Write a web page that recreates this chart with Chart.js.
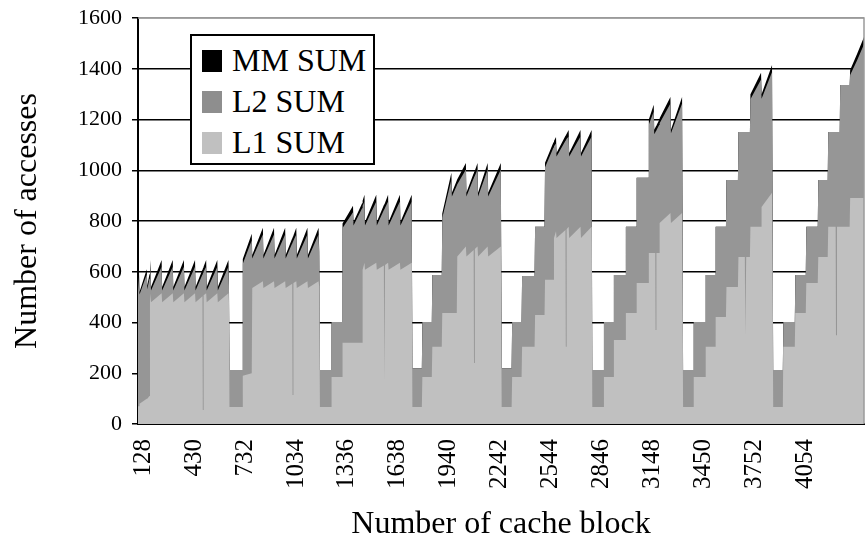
<!DOCTYPE html>
<html>
<head>
<meta charset="utf-8">
<script src="https://cdn.jsdelivr.net/npm/chart.js@4.4.0/dist/chart.umd.min.js"></script>
<style>
  html, body { margin: 0; padding: 0; background: #fff; }
  #wrap { position: relative; width: 865px; height: 544px; }
  #legend {
    position: absolute; left: 190px; top: 34px; width: 181px; height: 127px;
    border: 2px solid #000; background: #fff;
    font-family: "Liberation Serif", serif; font-size: 32px; color: #000;
  }
  #legend .sw { position: absolute; left: 10px; width: 20px; height: 22px; }
  #legend .tx { position: absolute; left: 40px; line-height: 32px; white-space: nowrap; }
</style>
</head>
<body>
<div id="wrap">
  <canvas id="chart" width="865" height="544"></canvas>
  <div id="legend">
    <div class="sw" style="top:14px;background:#000"></div><div class="tx" style="top:8px">MM SUM</div>
    <div class="sw" style="top:55px;background:#8e8e8e"></div><div class="tx" style="top:49px">L2 SUM</div>
    <div class="sw" style="top:96px;background:#c0c0c0"></div><div class="tx" style="top:90px">L1 SUM</div>
  </div>
</div>
<script>
// cache block counts (x) and the three stacked series
const blocks = [
  // group 1
  98, 104, 107, 150, 153, 166, 169, 172, 175, 238, 241, 304, 307, 370, 373, 436, 439,
  480, 482, 485, 487, 502, 505, 568, 571, 634, 637, 640, 716,
  // group 2
  719, 772, 775, 838, 841, 904, 907, 970, 973, 1012, 1014, 1017, 1019, 1036, 1039,
  1102, 1105, 1168, 1172, 1176, 1242, 1245, 1307,
  // group 3
  1310, 1372, 1375, 1426, 1429, 1440, 1443, 1510, 1513, 1555, 1557, 1560, 1562,
  1580, 1583, 1650, 1653, 1720, 1724, 1780, 1783, 1839, 1842, 1898,
  // group 4
  1901, 1955, 1958, 1987, 1990, 2041, 2044, 2087, 2089, 2092, 2094, 2110, 2113,
  2170, 2173, 2248, 2253, 2312, 2315, 2371, 2374, 2448, 2451, 2507,
  // group 5
  2510, 2560, 2563, 2575, 2578, 2631, 2633, 2636, 2638, 2650, 2653, 2720, 2723,
  2786, 2790, 2856, 2859, 2915, 2918, 2986, 2989, 3050, 3053, 3122,
  // group 6
  3125, 3154, 3157, 3163, 3165, 3168, 3170, 3186, 3189, 3253, 3256, 3322, 3328,
  3388, 3391, 3459, 3462, 3518, 3521, 3582, 3585, 3653, 3656, 3694, 3696, 3700,
  3702, 3724,
  // group 7
  3727, 3790, 3793, 3855, 3862, 3919,
  // group 8
  3922, 3990, 3993, 4055, 4058, 4126, 4129, 4185, 4188, 4232, 4234, 4238, 4240,
  4256, 4259, 4315, 4318, 4360, 4400
];

const l1Sum = [
  70, 70, 80, 100, 100, 110, 480, 515, 480, 515, 480, 515, 480, 515, 480, 515, 480,
  503, 55, 55, 507, 515, 480, 515, 480, 515, 480, 67, 67,
  190, 200, 536, 563, 536, 563, 536, 563, 536, 553, 114, 114, 556, 563, 536,
  563, 536, 563, 540, 67, 67, 185, 185,
  320, 320, 320, 320, 608, 635, 608, 635, 608, 625, 173, 173, 627,
  635, 608, 635, 608, 635, 67, 67, 185, 185, 304, 304,
  437, 437, 437, 437, 660, 700, 660, 686, 240, 240, 690, 700, 660,
  700, 660, 700, 67, 67, 185, 185, 304, 304, 430, 430,
  568, 568, 733, 760, 733, 765, 304, 304, 767, 777, 733, 777, 733,
  777, 67, 67, 185, 185, 331, 331, 437, 437, 556, 556,
  674, 674, 674, 674, 370, 370, 674, 674, 792, 832, 792, 832, 67,
  67, 185, 185, 304, 304, 422, 422, 540, 540, 658, 658, 350, 350,
  658, 658,
  777, 777, 855, 911, 67, 67,
  304, 304, 437, 437, 556, 556, 658, 658, 777, 777, 350, 350, 777,
  777, 777, 777, 891, 891, 891
];

const l2Sum = [
  450, 510, 430, 490, 431, 462, 100, 105, 46, 105, 46, 105, 46, 105, 46, 105, 46,
  86, 537, 542, 94, 105, 46, 105, 46, 105, 66, 146, 146,
  442, 524, 116, 184, 116, 184, 116, 184, 116, 159, 601, 606, 167, 184, 116,
  184, 116, 184, 126, 146, 146, 217, 217,
  452, 514, 462, 530, 252, 242, 174, 242, 174, 218, 673, 677, 225,
  242, 174, 242, 174, 242, 153, 153, 217, 217, 283, 283,
  375, 527, 460, 503, 285, 303, 237, 282, 731, 736, 288, 303, 237,
  303, 237, 303, 153, 153, 217, 217, 279, 279, 347, 347,
  444, 522, 362, 345, 321, 351, 814, 818, 357, 356, 321, 356, 321,
  356, 146, 146, 217, 217, 256, 256, 340, 340, 414, 414,
  506, 558, 468, 476, 782, 786, 484, 504, 393, 431, 354, 431, 146,
  146, 217, 217, 283, 283, 355, 355, 422, 422, 493, 493, 801, 801,
  493, 493,
  503, 581, 427, 476, 146, 146,
  98, 98, 150, 150, 221, 221, 304, 304, 374, 374, 801, 801, 374,
  374, 559, 559, 484, 543, 606
];

const mmSum = [
  0, 20, 10, 20, 14, 18, 20, 26, 14, 26, 14, 26, 14, 26, 14, 26, 14,
  20, 20, 20, 20, 26, 14, 26, 14, 26, 14, 0, 0,
  18, 26, 14, 26, 14, 26, 14, 26, 14, 20, 20, 20, 20, 26, 14,
  26, 14, 26, 14, 0, 0, 0, 0,
  18, 26, 14, 20, 20, 26, 14, 26, 14, 20, 20, 20, 20,
  26, 14, 26, 14, 26, 0, 0, 0, 0, 0, 0,
  18, 26, 14, 20, 20, 26, 14, 20, 20, 20, 20, 26, 14,
  26, 14, 26, 0, 0, 0, 0, 0, 0, 0, 0,
  18, 20, 20, 26, 14, 20, 20, 20, 20, 26, 14, 26, 14,
  26, 0, 0, 0, 0, 0, 0, 0, 0, 0, 0,
  20, 26, 18, 18, 18, 18, 18, 20, 20, 26, 14, 26, 0,
  0, 0, 0, 0, 0, 0, 0, 0, 0, 0, 0, 0, 0,
  0, 0,
  20, 26, 18, 28, 0, 0,
  0, 0, 0, 0, 0, 0, 0, 0, 0, 0, 0, 0, 0,
  0, 0, 0, 20, 26, 28
];

const blockTicks = [128, 430, 732, 1034, 1336, 1638, 1940, 2242, 2544, 2846, 3148, 3450, 3752, 4054];
const yTicks = [0, 200, 400, 600, 800, 1000, 1200, 1400, 1600];

const FONT = "'Liberation Serif', 'Times New Roman', serif";
Chart.defaults.font.family = FONT;
Chart.defaults.color = "#000";

function series(values) {
  return blocks.map((b, i) => ({ x: b, y: values[i] }));
}

// gray top and right border of the plot area
const frame = {
  id: "frame",
  afterDraw(chart) {
    const { ctx, chartArea: a } = chart;
    ctx.save();
    ctx.strokeStyle = "#9a9a9a";
    ctx.lineWidth = 1.5;
    ctx.beginPath();
    ctx.moveTo(a.left, a.top);
    ctx.lineTo(a.right, a.top);
    ctx.lineTo(a.right, a.bottom);
    ctx.stroke();
    ctx.restore();
  },
};

// every area is filled down to zero; the lower layers are drawn over the upper ones
new Chart(document.getElementById("chart"), {
  type: "line",
  data: {
    datasets: [
      { label: "L1 SUM", data: series(l1Sum), backgroundColor: "#c0c0c0", fill: "origin" },
      { label: "L2 SUM", data: series(l2Sum), backgroundColor: "#969696", fill: "origin" },
      { label: "MM SUM", data: series(mmSum), backgroundColor: "#000000", fill: "origin" },
    ],
  },
  options: {
    responsive: false,
    animation: false,
    layout: { padding: { top: 0, right: 1, left: 0, bottom: 0 } },
    elements: {
      point: { radius: 0 },
      line: { borderWidth: 0, borderColor: "rgba(0,0,0,0)", tension: 0 },
    },
    plugins: { legend: { display: false }, tooltip: { enabled: false } },
    scales: {
      x: {
        type: "linear",
        min: 98,
        max: 4400,
        afterBuildTicks: (scale) => { scale.ticks = blockTicks.map((v) => ({ value: v })); },
        afterFit: (scale) => { scale.height = 120; },
        ticks: {
          autoSkip: false,
          minRotation: 90,
          maxRotation: 90,
          padding: 15,
          font: { size: 25 },
          callback: (v) => String(v),
        },
        grid: { drawOnChartArea: false, drawTicks: false },
        border: { display: true, color: "#000", width: 2 },
        title: { display: true, text: "Number of cache block", font: { size: 32 }, padding: { top: 0, bottom: 0 } },
      },
      y: {
        stacked: true,
        min: 0,
        max: 1600,
        afterBuildTicks: (scale) => { scale.ticks = yTicks.map((v) => ({ value: v })); },
        afterFit: (scale) => {
          scale.width = 138;
          scale.paddingTop = 18;
          scale.paddingBottom = 0;
        },
        ticks: { font: { size: 22 }, padding: 10, callback: (v) => String(v) },
        grid: {
          color: (c) => (c.tick && c.tick.value === 1600 ? "#9a9a9a" : "#000"),
          lineWidth: 1.5,
          tickLength: 6,
          tickColor: "#000",
        },
        border: { display: true, color: "#000", width: 2 },
        title: { display: true, text: "Number of accesses", font: { size: 32 }, padding: { top: 8, bottom: 0 } },
      },
    },
  },
  plugins: [frame],
});
</script>
</body>
</html>
